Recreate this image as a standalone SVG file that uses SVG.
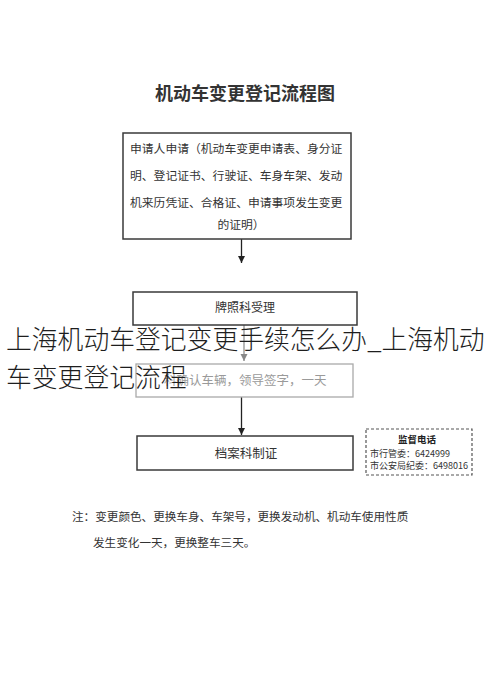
<svg xmlns="http://www.w3.org/2000/svg" width="490" height="698" viewBox="0 0 490 698">
<style>
.box{fill:none;stroke:#3a3a3a;stroke-width:1.5}
.t{font-family:"Noto Sans CJK SC","Noto Sans",sans-serif;fill:#333}
.c{text-anchor:middle}
.ov{font-family:"Noto Sans CJK SC","Noto Sans",sans-serif;font-weight:300;font-size:25.8px;fill:#1e1e1e}
</style>
<defs>
<marker id="ah" markerWidth="8" markerHeight="8" refX="7" refY="4" orient="auto" markerUnits="userSpaceOnUse">
<path d="M0,0.5 L7,4 L0,7.5 Z" fill="#222"/>
</marker>
<marker id="ahg" markerWidth="8" markerHeight="8" refX="7" refY="4" orient="auto" markerUnits="userSpaceOnUse">
<path d="M0,0.5 L7,4 L0,7.5 Z" fill="#888"/>
</marker>
</defs>
<rect width="490" height="698" fill="#fff"/>
<text id="title" class="t c" x="245" y="100" font-size="18" font-weight="bold" fill="#111">机动车变更登记流程图</text>
<g id="connectors">
<line x1="241.5" y1="239" x2="241.5" y2="263" stroke="#222" stroke-width="1.3" marker-end="url(#ah)"/>
<line x1="244" y1="325" x2="244" y2="361" stroke="#888" stroke-width="1.2" marker-end="url(#ahg)"/>
<line x1="241.5" y1="397" x2="241.5" y2="435" stroke="#222" stroke-width="1.3" marker-end="url(#ah)"/>
</g>
<g id="n1">
<rect class="box" x="123" y="133" width="228" height="106"/>
<text class="t" font-size="11.8" x="130" y="153">申请人申请（机动车变更申请表、身分证</text>
<text class="t" font-size="11.8" x="130" y="180">明、登记证书、行驶证、车身车架、发动</text>
<text class="t" font-size="11.8" x="130" y="207">机来历凭证、合格证、申请事项发生变更</text>
<text class="t c" font-size="11.8" x="241" y="229">的证明）</text>
</g>
<g id="n2">
<rect class="box" x="133" y="292" width="224" height="33"/>
<text class="t c" font-size="12" x="245" y="312">牌照科受理</text>
</g>
<g id="n3">
<rect x="136" y="364" width="217" height="33" fill="none" stroke="#aaa" stroke-width="1.3"/>
<text class="t" font-size="12.5" x="164" y="385" style="fill:#9a9a9a">科确认车辆，领导签字，一天</text>
</g>
<g id="n4">
<rect class="box" x="137" y="436" width="216" height="34"/>
<text class="t c" font-size="12.5" x="246" y="458">档案科制证</text>
</g>
<g id="n5">
<rect x="366" y="429" width="106" height="46" fill="none" stroke="#555" stroke-width="1.2" stroke-dasharray="3,2"/>
<text class="t c" font-size="9.5" font-weight="bold" x="417" y="443" style="fill:#222">监督电话</text>
<text class="t" font-size="9" x="370" y="457">市行管委：6424999</text>
<text class="t" font-size="9" x="370" y="469">市公安局纪委：6498016</text>
</g>
<g id="note">
<text class="t" font-size="11.6" x="72" y="521">注：变更颜色、更换车身、车架号，更换发动机、机动车使用性质</text>
<text class="t" font-size="11.6" x="93" y="547">发生变化一天，更换整车三天。</text>
</g>
<g id="overlay">
<text class="ov" x="6" y="349">上海机动车登记变更手续怎么办_上海机动</text>
<text class="ov" x="6" y="387">车变更登记流程</text>
</g>
</svg>
